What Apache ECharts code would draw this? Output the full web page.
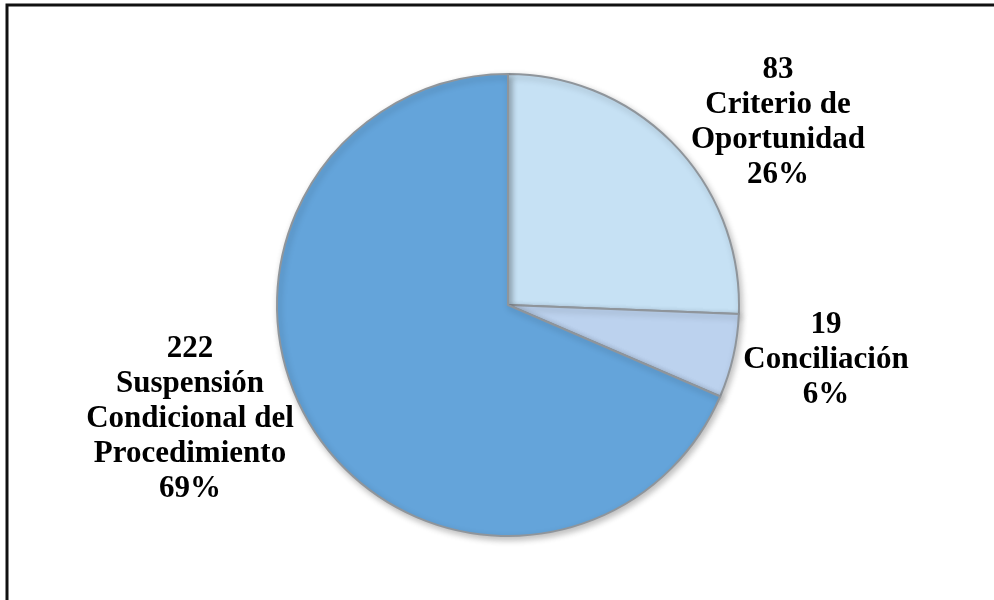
<!DOCTYPE html>
<html>
<head>
<meta charset="utf-8">
<script src="https://cdn.jsdelivr.net/npm/echarts@6/dist/echarts.min.js"></script>
<style>
html,body{margin:0;padding:0;background:#fff;}
#chart{width:994px;height:600px;}
</style>
</head>
<body>
<div id="chart"></div>
<script>
var categories = ['Criterio de\nOportunidad', 'Conciliación', 'Suspensión\nCondicional del\nProcedimiento'];
var values = [83, 19, 222];
var colors = ['#C6E1F4', '#BCD2EE', '#64A4DA'];

var total = values.reduce(function (a, b) { return a + b; }, 0);
var labelPos = [[778, 122], [826, 360], [190, 419]];

var data = categories.map(function (c, i) {
  return { name: c, value: values[i], itemStyle: { color: colors[i] } };
});

var chart = echarts.init(document.getElementById('chart'));
chart.setOption({
  backgroundColor: '#fff',
  animation: false,
  graphic: [{
    type: 'rect',
    shape: { x: 7, y: 5, width: 1010, height: 620 },
    style: { fill: 'none', stroke: '#111', lineWidth: 3 },
    silent: true
  }],
  series: [{
    type: 'pie',
    center: [508, 305],
    radius: 231,
    startAngle: 90,
    clockwise: true,
    data: data,
    itemStyle: {
      borderColor: '#8f959b',
      borderWidth: 2,
      shadowColor: 'rgba(0,0,0,0.25)',
      shadowBlur: 6,
      shadowOffsetX: 2,
      shadowOffsetY: 3
    },
    label: {
      show: true,
      position: 'outside',
      formatter: function (p) {
        return p.value + '\n' + p.name + '\n' + Math.round(p.value / total * 100) + '%';
      },
      fontFamily: 'Liberation Serif',
      fontWeight: 'bold',
      fontSize: 31,
      lineHeight: 35,
      color: '#000',
      align: 'center'
    },
    labelLine: { show: false },
    labelLayout: function (params) {
      var pos = labelPos[params.dataIndex];
      return { x: pos[0], y: pos[1], align: 'center', verticalAlign: 'middle' };
    }
  }]
});
</script>
</body>
</html>
